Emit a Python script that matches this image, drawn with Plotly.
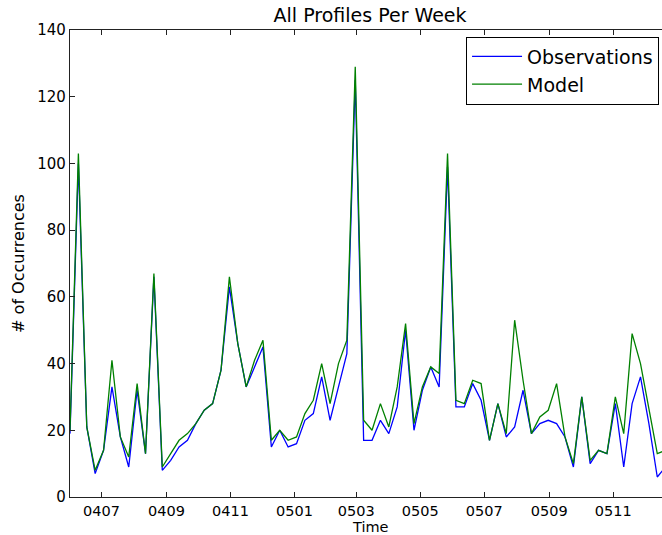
import pandas as pd
import plotly.graph_objects as go

# Profile counts sampled every 8 days, starting 1 June 2004
start_date = "2004-06-01"
sample_step = "8D"

observations = [
    19, 100, 21, 7, 14, 33, 18, 9, 32, 13,
    66, 8, 11, 15, 17, 22, 26, 28, 38, 63,
    46, 33, 39, 45, 15, 20, 15, 16, 23, 25,
    36, 23, 33, 43, 125, 17, 17, 23, 19, 27,
    50, 20, 32, 39, 33, 99, 27, 27, 34, 29,
    17, 28, 18, 21, 32, 19, 22, 23, 22, 18,
    9, 30, 10, 14, 13, 28, 9, 28, 36, 22,
    6, 9,
]
model = [
    20, 103, 21, 8, 14, 41, 18, 12, 34, 13,
    67, 9, 13, 17, 19, 22, 26, 28, 38, 66,
    46, 33, 41, 47, 17, 20, 17, 18, 25, 29,
    40, 28, 40, 47, 129, 23, 20, 28, 21, 33,
    52, 22, 33, 39, 37, 103, 29, 28, 35, 34,
    17, 28, 19, 53, 35, 19, 24, 26, 34, 18,
    10, 30, 11, 14, 13, 30, 19, 49, 40, 27,
    13, 14,
]
dates = pd.date_range(start_date, periods=len(observations), freq=sample_step)

y_ticks = [0, 20, 40, 60, 80, 100, 120, 140]
x_range = ["2004-06-01", "2005-12-17 12:00"]

font_family = "DejaVu Sans"
axis_color = "#222222"

fig = go.Figure()
fig.add_trace(go.Scatter(
    x=dates, y=observations, mode="lines", name="Observations",
    line=dict(color="#0000ff", width=1.3),
))
fig.add_trace(go.Scatter(
    x=dates, y=model, mode="lines", name="Model",
    line=dict(color="#008000", width=1.3),
))
# invisible copy on the top axis so its frame line and ticks are drawn
fig.add_trace(go.Scatter(
    x=dates, y=model, mode="lines", xaxis="x2", showlegend=False,
    hoverinfo="skip", line=dict(color="rgba(0,0,0,0)", width=0),
))

fig.update_layout(
    width=662, height=535,
    margin=dict(l=70, r=0, t=30, b=38),
    paper_bgcolor="white", plot_bgcolor="white",
    font=dict(family=font_family, size=14.5, color="black"),
    title=dict(
        text="All Profiles Per Week", x=0.559, xanchor="center",
        y=0.972, yanchor="middle", font=dict(size=19, color="black"),
    ),
    showlegend=True,
    legend=dict(
        x=0.669, y=0.986, xanchor="left", yanchor="top",
        bordercolor="black", borderwidth=1, bgcolor="white",
        font=dict(size=19, color="black"),
        itemwidth=50, tracegroupgap=0,
    ),
    xaxis=dict(
        type="date", range=x_range,
        tickformat="%y%m", dtick="M2", tick0="2004-07-01",
        ticks="inside", ticklen=5, tickcolor=axis_color,
        showline=True, linecolor=axis_color, linewidth=1.2,
        showgrid=False, zeroline=False,
        tickfont=dict(size=14.5),
    ),
    xaxis2=dict(
        type="date", overlaying="x", matches="x", side="top", anchor="y",
        tickformat="%y%m", dtick="M2", tick0="2004-07-01",
        ticks="inside", ticklen=5, tickcolor=axis_color,
        showline=True, linecolor=axis_color, linewidth=1.2,
        showgrid=False, zeroline=False, showticklabels=False,
    ),
    yaxis=dict(
        range=[0, 140], tickvals=y_ticks,
        ticks="inside", ticklen=5, tickcolor=axis_color,
        showline=True, linecolor=axis_color, linewidth=1.2,
        showgrid=False, zeroline=False,
        tickfont=dict(size=15),
        title=dict(text="# of Occurrences", standoff=8, font=dict(size=16)),
    ),
    annotations=[dict(
        text="Time", xref="paper", yref="paper", x=0.507, y=-0.0635,
        xanchor="center", yanchor="middle", showarrow=False, borderpad=0,
        font=dict(size=14.5, color="black"),
    )],
)

fig.write_html("out.html")
